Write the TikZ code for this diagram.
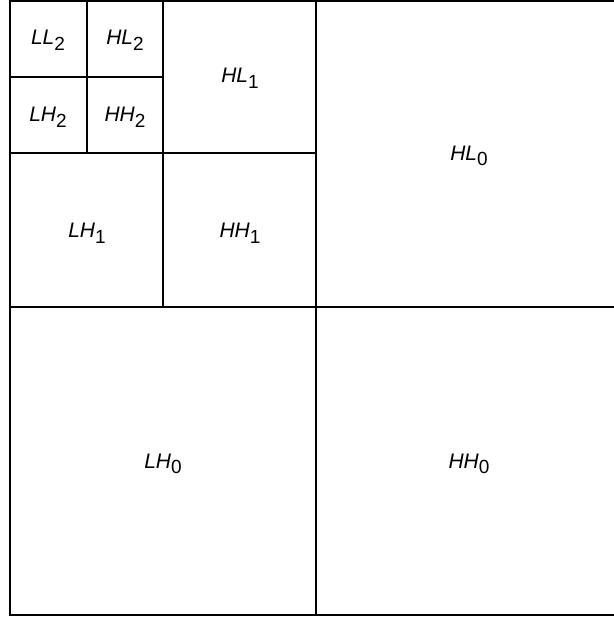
\documentclass[tikz,border=0pt]{standalone}
\usepackage{fontspec}
\setmainfont{Liberation Sans}
\tikzset{
  grid line/.style={line width=1.3pt, black},
  lbl/.style={inner sep=0pt, font=\fontsize{10.5}{12}\selectfont}
}
\newcommand{\bandlbl}[2]{{\itshape #1}\raisebox{-0.5ex}{\fontsize{9.5}{11}\selectfont #2}}
\begin{document}
\begin{tikzpicture}[x=0.5pt,y=-0.5pt]
\useasboundingbox (0,0) rectangle (614,622);
% outer frame (right side lies beyond the page)
\draw[grid line] (630,0.8) -- (10,0.8) -- (10,615) -- (630,615);
% level 0 split
\draw[grid line] (316,0) -- (316,615);
\draw[grid line] (10,307) -- (630,307);
% level 1 split
\draw[grid line] (163,0) -- (163,307);
\draw[grid line] (10,153) -- (316,153);
% level 2 split
\draw[grid line] (87,0) -- (87,153);
\draw[grid line] (10,77) -- (163,77);
% labels
\node[lbl] (ll2) at (48,40) {\bandlbl{LL}{2}};
\node[lbl] (hl2) at (125,40) {\bandlbl{HL}{2}};
\node[lbl] (lh2) at (48,117) {\bandlbl{LH}{2}};
\node[lbl] (hh2) at (125,117) {\bandlbl{HH}{2}};
\node[lbl] (hl1) at (240,78) {\bandlbl{HL}{1}};
\node[lbl] (lh1) at (87,233) {\bandlbl{LH}{1}};
\node[lbl] (hh1) at (240,233) {\bandlbl{HH}{1}};
\node[lbl] (hl0) at (469,156) {\bandlbl{HL}{0}};
\node[lbl] (lh0) at (163,464) {\bandlbl{LH}{0}};
\node[lbl] (hh0) at (469,464) {\bandlbl{HH}{0}};
\end{tikzpicture}
\end{document}
